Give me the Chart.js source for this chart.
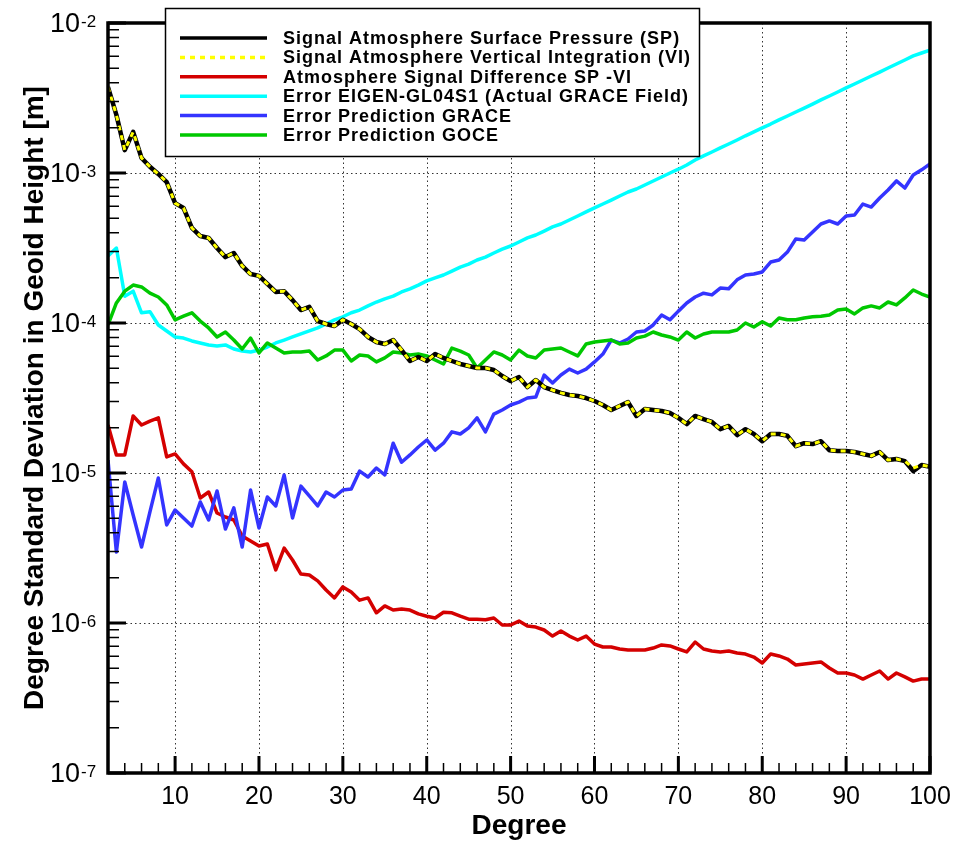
<!DOCTYPE html>
<html lang="en">
<head>
<meta charset="UTF-8">
<title>Degree Standard Deviation in Geoid Height</title>
<script src="https://cdn.jsdelivr.net/npm/chart.js"></script>
<style>
    body { margin: 0; background: #fff; }
    #wrap { width: 956px; height: 841px; }
</style>
</head>
<body>
<div id="wrap"><canvas id="geoidChart" width="956" height="841"></canvas></div>
<script>
// spherical harmonic degree 2..100
const degrees = [2, 3, 4, 5, 6, 7, 8, 9, 10, 11, 12, 13, 14, 15, 16, 17, 18, 19, 20, 21,
    22, 23, 24, 25, 26, 27, 28, 29, 30, 31, 32, 33, 34, 35, 36, 37, 38, 39, 40, 41,
    42, 43, 44, 45, 46, 47, 48, 49, 50, 51, 52, 53, 54, 55, 56, 57, 58, 59, 60, 61,
    62, 63, 64, 65, 66, 67, 68, 69, 70, 71, 72, 73, 74, 75, 76, 77, 78, 79, 80, 81,
    82, 83, 84, 85, 86, 87, 88, 89, 90, 91, 92, 93, 94, 95, 96, 97, 98, 99, 100];

const signalSP = [3.74e-3, 2.44e-3, 1.42e-3, 1.88e-3, 1.26e-3, 1.10e-3, 9.85e-4, 8.7e-4, 6.3e-4, 5.85e-4,
    4.3e-4, 3.8e-4, 3.69e-4, 3.16e-4, 2.75e-4, 2.93e-4, 2.4e-4, 2.12e-4, 2.06e-4, 1.82e-4,
    1.61e-4, 1.63e-4, 1.42e-4, 1.22e-4, 1.28e-4, 1.03e-4, 9.85e-5, 9.55e-5, 1.05e-4, 9.85e-5,
    9.1e-5, 8.07e-5, 7.47e-5, 7.24e-5, 7.7e-5, 6.6e-5, 5.58e-5, 5.93e-5, 5.58e-5, 6.21e-5,
    5.85e-5, 5.58e-5, 5.33e-5, 5.17e-5, 5.01e-5, 5.01e-5, 4.86e-5, 4.43e-5, 4.1e-5, 4.36e-5,
    3.74e-5, 4.17e-5, 3.74e-5, 3.57e-5, 3.42e-5, 3.31e-5, 3.26e-5, 3.16e-5, 3.02e-5, 2.84e-5,
    2.63e-5, 2.8e-5, 2.97e-5, 2.4e-5, 2.67e-5, 2.63e-5, 2.59e-5, 2.51e-5, 2.33e-5, 2.12e-5,
    2.4e-5, 2.29e-5, 2.19e-5, 1.96e-5, 2.06e-5, 1.79e-5, 1.96e-5, 1.82e-5, 1.63e-5, 1.82e-5,
    1.82e-5, 1.77e-5, 1.51e-5, 1.58e-5, 1.56e-5, 1.63e-5, 1.42e-5, 1.40e-5, 1.40e-5, 1.38e-5,
    1.34e-5, 1.30e-5, 1.38e-5, 1.22e-5, 1.24e-5, 1.20e-5, 1.03e-5, 1.13e-5, 1.10e-5];

const signalVI = [3.74e-3, 2.44e-3, 1.42e-3, 1.88e-3, 1.26e-3, 1.10e-3, 9.85e-4, 8.7e-4, 6.3e-4, 5.85e-4,
    4.3e-4, 3.8e-4, 3.69e-4, 3.16e-4, 2.75e-4, 2.93e-4, 2.4e-4, 2.12e-4, 2.06e-4, 1.82e-4,
    1.61e-4, 1.63e-4, 1.42e-4, 1.22e-4, 1.28e-4, 1.03e-4, 9.85e-5, 9.55e-5, 1.05e-4, 9.85e-5,
    9.1e-5, 8.07e-5, 7.47e-5, 7.24e-5, 7.7e-5, 6.6e-5, 5.58e-5, 5.93e-5, 5.58e-5, 6.21e-5,
    5.85e-5, 5.58e-5, 5.33e-5, 5.17e-5, 5.01e-5, 5.01e-5, 4.86e-5, 4.43e-5, 4.1e-5, 4.36e-5,
    3.74e-5, 4.17e-5, 3.74e-5, 3.57e-5, 3.42e-5, 3.31e-5, 3.26e-5, 3.16e-5, 3.02e-5, 2.84e-5,
    2.63e-5, 2.8e-5, 2.97e-5, 2.4e-5, 2.67e-5, 2.63e-5, 2.59e-5, 2.51e-5, 2.33e-5, 2.12e-5,
    2.4e-5, 2.29e-5, 2.19e-5, 1.96e-5, 2.06e-5, 1.79e-5, 1.96e-5, 1.82e-5, 1.63e-5, 1.82e-5,
    1.82e-5, 1.77e-5, 1.51e-5, 1.58e-5, 1.56e-5, 1.63e-5, 1.42e-5, 1.40e-5, 1.40e-5, 1.38e-5,
    1.34e-5, 1.30e-5, 1.38e-5, 1.22e-5, 1.24e-5, 1.20e-5, 1.08e-5, 1.13e-5, 1.10e-5];

const diffSPVI = [2.09e-5, 1.32e-5, 1.32e-5, 2.4e-5, 2.09e-5, 2.22e-5, 2.33e-5, 1.28e-5, 1.34e-5, 1.15e-5,
    1.02e-5, 6.81e-6, 7.47e-6, 5.41e-6, 5.09e-6, 4.86e-6, 3.8e-6, 3.52e-6, 3.26e-6, 3.36e-6,
    2.26e-6, 3.16e-6, 2.63e-6, 2.12e-6, 2.09e-6, 1.91e-6, 1.66e-6, 1.47e-6, 1.74e-6, 1.61e-6,
    1.42e-6, 1.47e-6, 1.17e-6, 1.30e-6, 1.22e-6, 1.24e-6, 1.22e-6, 1.15e-6, 1.11e-6, 1.08e-6,
    1.18e-6, 1.17e-6, 1.11e-6, 1.06e-6, 1.06e-6, 1.05e-6, 1.08e-6, 9.7e-7, 9.7e-7, 1.03e-6,
    9.55e-7, 9.4e-7, 8.98e-7, 8.18e-7, 8.85e-7, 8.18e-7, 7.7e-7, 8.18e-7, 7.24e-7, 6.92e-7,
    6.92e-7, 6.71e-7, 6.6e-7, 6.6e-7, 6.6e-7, 6.81e-7, 7.14e-7, 7.03e-7, 6.71e-7, 6.41e-7,
    7.47e-7, 6.71e-7, 6.5e-7, 6.41e-7, 6.5e-7, 6.31e-7, 6.21e-7, 5.93e-7, 5.41e-7, 6.21e-7,
    6.03e-7, 5.75e-7, 5.25e-7, 5.33e-7, 5.41e-7, 5.5e-7, 5.01e-7, 4.64e-7, 4.64e-7, 4.5e-7,
    4.23e-7, 4.5e-7, 4.79e-7, 4.23e-7, 4.64e-7, 4.37e-7, 4.1e-7, 4.23e-7, 4.23e-7];

const errEigen = [2.8e-4, 3.16e-4, 1.51e-4, 1.63e-4, 1.17e-4, 1.19e-4, 9.7e-5, 8.85e-5, 8.07e-5, 7.94e-5,
    7.59e-5, 7.36e-5, 7.14e-5, 7.03e-5, 7.14e-5, 6.71e-5, 6.5e-5, 6.41e-5, 6.6e-5, 6.92e-5,
    7.36e-5, 7.7e-5, 8.07e-5, 8.45e-5, 8.85e-5, 9.27e-5, 9.85e-5, 1.05e-4, 1.10e-4, 1.17e-4,
    1.22e-4, 1.30e-4, 1.38e-4, 1.45e-4, 1.51e-4, 1.61e-4, 1.69e-4, 1.79e-4, 1.91e-4, 2.0e-4,
    2.09e-4, 2.22e-4, 2.36e-4, 2.47e-4, 2.63e-4, 2.75e-4, 2.93e-4, 3.11e-4, 3.26e-4, 3.47e-4,
    3.69e-4, 3.86e-4, 4.1e-4, 4.37e-4, 4.57e-4, 4.86e-4, 5.17e-4, 5.5e-4, 5.85e-4, 6.21e-4,
    6.6e-4, 7.03e-4, 7.47e-4, 7.82e-4, 8.32e-4, 8.85e-4, 9.4e-4, 1.0e-3, 1.06e-3, 1.13e-3,
    1.22e-3, 1.30e-3, 1.38e-3, 1.47e-3, 1.56e-3, 1.66e-3, 1.77e-3, 1.88e-3, 2.0e-3, 2.12e-3,
    2.26e-3, 2.4e-3, 2.55e-3, 2.71e-3, 2.88e-3, 3.07e-3, 3.26e-3, 3.47e-3, 3.69e-3, 3.92e-3,
    4.17e-3, 4.43e-3, 4.71e-3, 5.01e-3, 5.33e-3, 5.67e-3, 6.03e-3, 6.31e-3, 6.6e-3];

const errGrace = [1.22e-5, 2.97e-6, 8.71e-6, 5.25e-6, 3.21e-6, 5.5e-6, 9.27e-6, 4.5e-6, 5.67e-6, 5.01e-6,
    4.43e-6, 6.41e-6, 4.86e-6, 7.59e-6, 4.23e-6, 5.85e-6, 3.21e-6, 7.7e-6, 4.3e-6, 6.92e-6,
    6.03e-6, 9.7e-6, 5.01e-6, 8.18e-6, 7.03e-6, 6.03e-6, 7.47e-6, 6.92e-6, 7.7e-6, 7.82e-6,
    1.03e-5, 9.4e-6, 1.08e-5, 9.7e-6, 1.58e-5, 1.18e-5, 1.32e-5, 1.49e-5, 1.66e-5, 1.42e-5,
    1.58e-5, 1.88e-5, 1.82e-5, 2.0e-5, 2.33e-5, 1.88e-5, 2.47e-5, 2.63e-5, 2.84e-5, 2.97e-5,
    3.16e-5, 3.21e-5, 4.5e-5, 3.98e-5, 4.5e-5, 4.93e-5, 4.64e-5, 4.93e-5, 5.5e-5, 6.21e-5,
    7.7e-5, 7.36e-5, 7.82e-5, 8.71e-5, 8.85e-5, 9.7e-5, 1.13e-4, 1.05e-4, 1.20e-4, 1.36e-4,
    1.49e-4, 1.58e-4, 1.54e-4, 1.71e-4, 1.69e-4, 1.94e-4, 2.09e-4, 2.12e-4, 2.19e-4, 2.55e-4,
    2.63e-4, 2.97e-4, 3.63e-4, 3.57e-4, 4.05e-4, 4.57e-4, 4.79e-4, 4.57e-4, 5.17e-4, 5.25e-4,
    6.21e-4, 5.93e-4, 6.81e-4, 7.7e-4, 8.85e-4, 7.94e-4, 9.7e-4, 1.05e-3, 1.15e-3];

const errGoce = [9.7e-5, 1.36e-4, 1.63e-4, 1.79e-4, 1.74e-4, 1.58e-4, 1.49e-4, 1.32e-4, 1.05e-4, 1.11e-4,
    1.17e-4, 1.03e-4, 9.27e-5, 8.07e-5, 8.71e-5, 7.7e-5, 6.71e-5, 7.94e-5, 6.31e-5, 7.36e-5,
    6.81e-5, 6.31e-5, 6.41e-5, 6.41e-5, 6.5e-5, 5.67e-5, 6.03e-5, 6.6e-5, 6.6e-5, 5.58e-5,
    6.12e-5, 6.03e-5, 5.5e-5, 5.85e-5, 6.41e-5, 6.31e-5, 6.12e-5, 6.21e-5, 6.03e-5, 5.67e-5,
    5.33e-5, 6.81e-5, 6.5e-5, 6.12e-5, 5.01e-5, 5.67e-5, 6.41e-5, 6.12e-5, 5.67e-5, 6.6e-5,
    6.03e-5, 5.85e-5, 6.6e-5, 6.71e-5, 6.81e-5, 6.41e-5, 6.03e-5, 7.24e-5, 7.47e-5, 7.59e-5,
    7.7e-5, 7.24e-5, 7.36e-5, 7.94e-5, 8.18e-5, 8.71e-5, 8.32e-5, 8.07e-5, 7.7e-5, 8.71e-5,
    7.94e-5, 8.45e-5, 8.71e-5, 8.71e-5, 8.71e-5, 8.98e-5, 1.0e-4, 9.4e-5, 1.02e-4, 9.55e-5,
    1.08e-4, 1.05e-4, 1.05e-4, 1.08e-4, 1.10e-4, 1.11e-4, 1.13e-4, 1.22e-4, 1.24e-4, 1.15e-4,
    1.26e-4, 1.30e-4, 1.26e-4, 1.38e-4, 1.32e-4, 1.47e-4, 1.66e-4, 1.56e-4, 1.49e-4];

// axis ticks
const xTicks = [10, 20, 30, 40, 50, 60, 70, 80, 90, 100];
const yDecades = [1e-7, 1e-6, 1e-5, 1e-4, 1e-3, 1e-2];
const yExponents = ['-7', '-6', '-5', '-4', '-3', '-2'];

const FONT = '"Liberation Sans", Arial, sans-serif';

function toPoints(values) {
    return values.map((v, i) => ({ x: degrees[i], y: v }));
}

function seg(ctx, x1, y1, x2, y2) {
    ctx.moveTo(x1, y1);
    ctx.lineTo(x2, y2);
}

// frame, ticks, dotted grid, labels and the boxed legend
const axisDecor = {
    id: 'axisDecor',
    beforeDatasetsDraw(chart) {
        const { ctx, chartArea: a, scales: { x, y } } = chart;
        ctx.save();
        ctx.strokeStyle = '#333';
        ctx.lineWidth = 1;
        ctx.setLineDash([1.5, 3]);
        ctx.beginPath();
        xTicks.slice(0, -1).forEach(v => {
            const px = Math.round(x.getPixelForValue(v)) + 0.5;
            seg(ctx, px, a.top, px, a.bottom);
        });
        yDecades.slice(1, -1).forEach(v => {
            const py = Math.round(y.getPixelForValue(v)) + 0.5;
            seg(ctx, a.left, py, a.right, py);
        });
        ctx.stroke();
        ctx.restore();
    },
    afterDatasetsDraw(chart) {
        const { ctx, chartArea: a, scales: { x, y } } = chart;
        ctx.save();

        // frame
        ctx.strokeStyle = '#000';
        ctx.lineWidth = 3.5;
        ctx.strokeRect(a.left, a.top, a.right - a.left, a.bottom - a.top);

        // x ticks
        ctx.beginPath();
        ctx.lineWidth = 3;
        xTicks.forEach(v => {
            const px = x.getPixelForValue(v);
            seg(ctx, px, a.bottom, px, a.bottom - 17);
        });
        ctx.stroke();
        ctx.beginPath();
        ctx.lineWidth = 1.5;
        for (let v = 4; v < 100; v += 2) {
            if (v % 10 === 0) continue;
            const px = x.getPixelForValue(v);
            seg(ctx, px, a.bottom, px, a.bottom - 10);
        }
        ctx.stroke();

        // y ticks
        ctx.beginPath();
        ctx.lineWidth = 3;
        yDecades.forEach(v => {
            const py = y.getPixelForValue(v);
            seg(ctx, a.left, py, a.left + 18, py);
        });
        ctx.stroke();
        ctx.beginPath();
        ctx.lineWidth = 1.5;
        yDecades.slice(0, -1).forEach(d => {
            for (let m = 2; m <= 9; m++) {
                const py = y.getPixelForValue(m * d);
                seg(ctx, a.left, py, a.left + 11, py);
            }
        });
        ctx.stroke();

        // tick labels
        ctx.fillStyle = '#000';
        ctx.font = '25px ' + FONT;
        ctx.textAlign = 'center';
        ctx.textBaseline = 'middle';
        xTicks.forEach(v => ctx.fillText(String(v), x.getPixelForValue(v), a.bottom + 24));

        yDecades.forEach((v, i) => {
            const py = y.getPixelForValue(v);
            ctx.font = '27px ' + FONT;
            ctx.textAlign = 'right';
            ctx.textBaseline = 'middle';
            ctx.fillText('10', a.left - 28, py + 2);
            ctx.font = '17px ' + FONT;
            ctx.textAlign = 'left';
            ctx.textBaseline = 'top';
            ctx.fillText(yExponents[i], a.left - 27, py - 9);
        });

        // axis titles
        ctx.font = 'bold 28px ' + FONT;
        ctx.textAlign = 'center';
        ctx.textBaseline = 'middle';
        ctx.fillText('Degree', (a.left + a.right) / 2, 826);
        ctx.save();
        ctx.translate(35, (a.top + a.bottom) / 2);
        ctx.rotate(-Math.PI / 2);
        ctx.fillText('Degree Standard Deviation in Geoid Height [m]', 0, 0);
        ctx.restore();

        // legend box
        ctx.fillStyle = '#fff';
        ctx.fillRect(165, 8, 534, 148);
        ctx.strokeStyle = '#000';
        ctx.lineWidth = 1.5;
        ctx.strokeRect(165.5, 8.5, 534, 148);
        chart.data.datasets.forEach((ds, i) => {
            const ly = 38 + i * 19.4;
            ctx.beginPath();
            ctx.strokeStyle = ds.borderColor;
            ctx.lineWidth = 3.5;
            ctx.setLineDash(ds.borderDash || []);
            seg(ctx, 180, ly, 267, ly);
            ctx.stroke();
            ctx.setLineDash([]);
            ctx.fillStyle = '#000';
            ctx.font = 'bold 18px ' + FONT;
            ctx.letterSpacing = '1px';
            ctx.textAlign = 'left';
            ctx.textBaseline = 'middle';
            ctx.fillText(ds.label, 283, ly + 1);
            ctx.letterSpacing = '0px';
        });

        ctx.restore();
    }
};

const ctx = document.getElementById('geoidChart').getContext('2d');
new Chart(ctx, {
    type: 'line',
    data: {
        datasets: [
            { label: 'Signal Atmosphere Surface Pressure (SP)', data: toPoints(signalSP), borderColor: '#000000', borderWidth: 4.5, order: 1 },
            { label: 'Signal Atmosphere Vertical Integration (VI)', data: toPoints(signalVI), borderColor: '#ffff00', borderWidth: 3, borderDash: [5, 5], order: 0 },
            { label: 'Atmosphere Signal Difference SP -VI', data: toPoints(diffSPVI), borderColor: '#d40000', borderWidth: 3.5, order: 4 },
            { label: 'Error EIGEN-GL04S1 (Actual GRACE Field)', data: toPoints(errEigen), borderColor: '#00ffff', borderWidth: 3.5, order: 5 },
            { label: 'Error Prediction GRACE', data: toPoints(errGrace), borderColor: '#3434ff', borderWidth: 3.5, order: 3 },
            { label: 'Error Prediction GOCE', data: toPoints(errGoce), borderColor: '#00c800', borderWidth: 3.5, order: 2 }
        ]
    },
    options: {
        responsive: false,
        animation: false,
        devicePixelRatio: 1,
        layout: { padding: { left: 108, right: 26, top: 23, bottom: 68 } },
        elements: {
            point: { radius: 0 },
            line: { tension: 0, borderJoinStyle: 'round', fill: false }
        },
        plugins: {
            legend: { display: false },
            tooltip: { enabled: false }
        },
        scales: {
            x: { type: 'linear', min: 2, max: 100, display: false },
            y: { type: 'logarithmic', min: 1e-7, max: 1e-2, display: false }
        }
    },
    plugins: [axisDecor]
});
</script>
</body>
</html>
